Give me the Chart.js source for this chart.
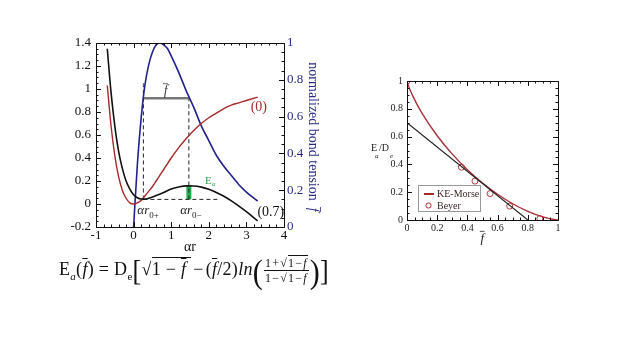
<!DOCTYPE html>
<html>
<head>
<meta charset="utf-8">
<script src="https://cdn.jsdelivr.net/npm/chart.js@4.4.0/dist/chart.umd.min.js"></script>
<style>
  body { margin:0; width:640px; height:360px; background:#fff; position:relative; overflow:hidden; font-family:'Liberation Serif', serif; }
  #left { position:absolute; left:0; top:0; }
  #right { position:absolute; left:340px; top:40px; }
  #eq { position:absolute; left:59px; top:256px; font-size:18px; white-space:nowrap; color:#111; letter-spacing:0.3px; }
  #eq sub { font-size:11px; }
  .fb { text-decoration:overline; }
  .ov { border-top:1px solid #111; padding-top:1px; }
  .sp { margin:0 2px; }
  .frac { display:inline-block; vertical-align:middle; text-align:center; font-size:12px; line-height:13px; margin:0 1px; letter-spacing:1.2px; }
  .num { display:block; border-bottom:1px solid #111; padding:0 1px; }
  .den { display:block; padding:1px 1px 0; }
  .frac .ov { padding-top:0; }
  .par { display:inline-block; font-size:30px; vertical-align:middle; line-height:30px; transform:scaleY(1.15); }
  .big { display:inline-block; font-size:26px; vertical-align:middle; line-height:30px; transform:scaleY(1.15); }
</style>
</head>
<body>
<canvas id="left" width="340" height="260"></canvas>
<canvas id="right" width="260" height="220"></canvas>
<div id="eq">E<sub><i>a</i></sub>(<i class="fb">f</i>) = D<sub>e</sub><span class="big">[</span>√<span class="ov">1 − <i class="fb">f</i>&nbsp;</span><span class="sp">−</span>(<i class="fb">f</i>/2)<i>ln</i><span class="par">(</span><span class="frac"><span class="num">1+√<span class="ov">1−<i class="fb">f</i></span></span><span class="den">1−√<span class="ov">1−<i class="fb">f</i></span></span></span><span class="par">)</span><span class="big">]</span></div>
<script>
// ---- left panel: Morse potential, tilted potential, bond tension ----
const morseX   = [-0.7,-0.6,-0.5,-0.4,-0.3,-0.2,-0.1,0,0.1,0.2,0.3,0.4,0.5,0.6,0.8,1.0,1.2,1.4,1.6,1.8,2.0,2.2,2.4,2.6,2.8,3.0,3.3];
const energy0  = [1.03,0.68,0.42,0.24,0.12,0.05,0.01,0,0.01,0.03,0.07,0.11,0.15,0.20,0.30,0.40,0.49,0.57,0.64,0.70,0.75,0.79,0.83,0.86,0.88,0.90,0.93];
const energy07 = [1.35,0.97,0.68,0.46,0.31,0.20,0.13,0.08,0.054,0.043,0.042,0.049,0.06,0.074,0.10,0.13,0.148,0.158,0.157,0.147,0.128,0.10,0.067,0.027,-0.018,-0.067,-0.147];
const tensionX = [0,0.1,0.2,0.3,0.4,0.5,0.6,0.7,0.8,0.9,1.0,1.2,1.4,1.6,1.8,2.0,2.2,2.4,2.6,2.8,3.0,3.3];
const tensionY = [0,0.34,0.59,0.77,0.88,0.95,0.99,1.0,0.99,0.97,0.93,0.84,0.74,0.65,0.55,0.47,0.39,0.33,0.28,0.23,0.19,0.14];
const leftXTicks  = [-1,0,1,2,3,4];
const leftYTicks  = [-0.2,0,0.2,0.4,0.6,0.8,1,1.2,1.4];
const rightYTicks = [0,0.2,0.4,0.6,0.8,1];

// annotation values
const fBar = 0.7, r0plus = 0.26, r0minus = 1.47, eLow = 0.04, eHigh = 0.16, dashEnd = 2.27;

// ---- right panel: activation energy vs tension ----
const fGrid    = [0,0.003,0.01,0.02,0.05,0.1,0.2,0.3,0.4,0.5,0.6,0.7,0.8,0.9,0.95,1.0];
const keMorse  = [1.0,0.988,0.965,0.937,0.866,0.767,0.606,0.474,0.362,0.266,0.185,0.117,0.062,0.022,0.008,0];
const beyerF   = [0,0.36,0.45,0.55,0.68,0.88];
const beyerE   = [1.0,0.38,0.28,0.19,0.10,0.01];
const tangentF = [0,0.8];
const tangentE = [0.7,0];
const panelTicks = [0,0.2,0.4,0.6,0.8,1];

const pts = (xs, ys) => xs.map((x, i) => ({ x, y: ys[i] }));
const SERIF = "'Liberation Serif', serif";
const fmt = v => String(Math.round(v * 10) / 10);

function inTicks(ctx, area, scale, side, min, max, major, minor) {
  const n = Math.round((max - min) / minor);
  ctx.save();
  ctx.strokeStyle = '#111'; ctx.lineWidth = 1;
  for (let i = 0; i <= n; i++) {
    const v = min + i * minor;
    const len = Math.abs(v / major - Math.round(v / major)) < 1e-6 ? 5 : 2.5;
    const p = Math.round(scale.getPixelForValue(v)) + 0.5;
    ctx.beginPath();
    if (side === 'bottom') { ctx.moveTo(p, area.bottom); ctx.lineTo(p, area.bottom - len); }
    if (side === 'top')    { ctx.moveTo(p, area.top);    ctx.lineTo(p, area.top + len); }
    if (side === 'left')   { ctx.moveTo(area.left, p);   ctx.lineTo(area.left + len, p); }
    if (side === 'right')  { ctx.moveTo(area.right, p);  ctx.lineTo(area.right - len, p); }
    ctx.stroke();
  }
  ctx.restore();
}

function fbarText(ctx, x, y, size) {
  // italic f with an overbar
  ctx.font = `italic ${size}px ${SERIF}`;
  const w = ctx.measureText('f').width;
  ctx.fillText('f', x, y);
  ctx.beginPath();
  ctx.moveTo(x - w * 0.2, y - size * 0.82);
  ctx.lineTo(x + w * 1.1, y - size * 0.82);
  ctx.stroke();
  return w;
}

const noGrid = { display: false, drawTicks: false };

const leftDeco = {
  id: 'leftDeco',
  afterDraw(chart) {
    const { ctx, chartArea: a } = chart;
    const xs = chart.scales.x, ys = chart.scales.y, y2 = chart.scales.y2;
    ctx.save();
    ctx.strokeStyle = '#111'; ctx.lineWidth = 1;
    ctx.strokeRect(Math.round(a.left) + 0.5, Math.round(a.top) + 0.5, Math.round(a.right - a.left), Math.round(a.bottom - a.top));
    inTicks(ctx, a, xs, 'bottom', -1, 4, 1, 0.2);
    inTicks(ctx, a, xs, 'top', -1, 4, 1, 0.2);
    inTicks(ctx, a, ys, 'left', -0.2, 1.4, 0.2, 0.05);
    inTicks(ctx, a, y2, 'right', 0, 1, 0.2, 0.05);

    // axis title x
    ctx.fillStyle = '#111'; ctx.textAlign = 'center'; ctx.textBaseline = 'middle';
    ctx.font = `14px ${SERIF}`;
    ctx.fillText('αr', (a.left + a.right) / 2, 247);

    // right axis title, rotated
    ctx.save();
    ctx.translate(313, (a.top + a.bottom) / 2 + 2);
    ctx.rotate(Math.PI / 2);
    ctx.fillStyle = '#2b2b85'; ctx.strokeStyle = '#2b2b85';
    ctx.font = `14px ${SERIF}`;
    const t = 'normalized bond tension  ';
    const w1 = ctx.measureText(t).width;
    ctx.font = `italic 14px ${SERIF}`;
    const w2 = ctx.measureText('f').width;
    const x0 = -(w1 + w2) / 2;
    ctx.textAlign = 'left'; ctx.textBaseline = 'alphabetic';
    ctx.font = `14px ${SERIF}`;
    ctx.fillText(t, x0, 4);
    ctx.lineWidth = 0.8;
    fbarText(ctx, x0 + w1, 4, 14);
    ctx.restore();

    // curve labels
    ctx.textAlign = 'center'; ctx.textBaseline = 'middle';
    ctx.font = `14px ${SERIF}`;
    ctx.fillStyle = '#a52a2a';
    ctx.fillText('(0)', xs.getPixelForValue(3.33), ys.getPixelForValue(0.84));
    ctx.fillStyle = '#111';
    ctx.fillText('(0.7)', xs.getPixelForValue(3.65), ys.getPixelForValue(-0.076));

    // E_a label
    ctx.fillStyle = '#2e9e4a';
    ctx.font = `11px ${SERIF}`;
    ctx.textAlign = 'left';
    const ex = xs.getPixelForValue(1.9), ey = ys.getPixelForValue(0.2);
    ctx.fillText('E', ex, ey);
    ctx.font = `italic 7px ${SERIF}`;
    ctx.fillText('a', ex + 7, ey + 3);

    // alpha r0+ / alpha r0- labels
    ctx.fillStyle = '#222';
    [[0.1, '0+'], [1.24, '0\u2212']].forEach(([xv, sub]) => {
      const px = xs.getPixelForValue(xv), py = ys.getPixelForValue(-0.06);
      ctx.font = `italic 13px ${SERIF}`;
      ctx.fillText('αr', px, py);
      const w = ctx.measureText('αr').width;
      ctx.font = `9px ${SERIF}`;
      ctx.fillText(sub, px + w, py + 5);
    });

    // f-bar label above the level line
    ctx.fillStyle = '#444'; ctx.strokeStyle = '#444'; ctx.lineWidth = 0.8;
    ctx.textBaseline = 'alphabetic';
    fbarText(ctx, xs.getPixelForValue(0.8), y2.getPixelForValue(fBar) - 3, 14);
    ctx.restore();
  }
};

new Chart(document.getElementById('left'), {
  type: 'line',
  data: {
    datasets: [
      { data: pts(morseX, energy07), borderColor: '#111', borderWidth: 1.6, yAxisID: 'y' },
      { data: pts(morseX, energy0), borderColor: '#a52a2a', borderWidth: 1.4, yAxisID: 'y' },
      { data: pts(tensionX, tensionY), borderColor: '#22228a', borderWidth: 1.6, yAxisID: 'y2' },
      { data: pts([r0plus, r0minus], [fBar, fBar]), borderColor: '#777', borderWidth: 2.5, yAxisID: 'y2', tension: 0 },
      { data: pts([r0plus, r0plus], [eLow, 1.05]), borderColor: '#222', borderWidth: 1, borderDash: [4, 3], yAxisID: 'y', tension: 0 },
      { data: pts([r0minus, r0minus], [eLow, 0.92]), borderColor: '#222', borderWidth: 1, borderDash: [4, 3], yAxisID: 'y', tension: 0 },
      { data: pts([r0plus, dashEnd], [eLow, eLow]), borderColor: '#222', borderWidth: 1, borderDash: [4, 3], yAxisID: 'y', tension: 0 },
      { data: pts([r0minus, r0minus], [eLow, eHigh]), borderColor: '#1fb14f', borderWidth: 5, yAxisID: 'y', tension: 0, borderCapStyle: 'butt' }
    ]
  },
  options: {
    responsive: false, animation: false,
    layout: { padding: { top: 43, left: 0, right: 0, bottom: 0 } },
    elements: { point: { radius: 0 }, line: { tension: 0.35, cubicInterpolationMode: 'monotone', fill: false } },
    plugins: { legend: { display: false }, tooltip: { enabled: false } },
    scales: {
      x: {
        type: 'linear', min: -1, max: 4,
        afterBuildTicks: s => { s.ticks = leftXTicks.map(v => ({ value: v })); },
        afterFit: s => { s.height = 33; },
        grid: noGrid, border: { display: false },
        ticks: { color: '#111', padding: 1, font: { family: SERIF, size: 13 }, callback: v => fmt(v), maxRotation: 0 }
      },
      y: {
        position: 'left', min: -0.2, max: 1.4,
        afterBuildTicks: s => { s.ticks = leftYTicks.map(v => ({ value: v })); },
        afterFit: s => { s.width = 96; },
        grid: noGrid, border: { display: false },
        ticks: { color: '#111', padding: 5, font: { family: SERIF, size: 13 }, callback: v => fmt(v) }
      },
      y2: {
        position: 'right', min: 0, max: 1,
        afterBuildTicks: s => { s.ticks = rightYTicks.map(v => ({ value: v })); },
        afterFit: s => { s.width = 56; },
        grid: noGrid, border: { display: false },
        ticks: { color: '#2b2b85', padding: 3, font: { family: SERIF, size: 13 }, callback: v => fmt(v) }
      }
    }
  },
  plugins: [leftDeco]
});

const rightDeco = {
  id: 'rightDeco',
  afterDraw(chart) {
    const { ctx, chartArea: a } = chart;
    const xs = chart.scales.x, ys = chart.scales.y;
    ctx.save();
    ctx.strokeStyle = '#111'; ctx.lineWidth = 1;
    ctx.strokeRect(Math.round(a.left) + 0.5, Math.round(a.top) + 0.5, Math.round(a.right - a.left), Math.round(a.bottom - a.top));
    ['bottom', 'top'].forEach(s => inTicks(ctx, a, xs, s, 0, 1, 0.2, 0.05));
    ['left', 'right'].forEach(s => inTicks(ctx, a, ys, s, 0, 1, 0.2, 0.05));

    // x title: f-bar
    ctx.fillStyle = '#222'; ctx.strokeStyle = '#222'; ctx.lineWidth = 0.8;
    ctx.textAlign = 'left'; ctx.textBaseline = 'alphabetic';
    fbarText(ctx, (a.left + a.right) / 2 - 2, 202, 13);

    // y title: Ea/De
    ctx.font = `10px ${SERIF}`;
    ctx.fillText('E', 31, 111);
    ctx.fillText('/D', 39, 111);
    ctx.font = `italic 7px ${SERIF}`;
    ctx.fillText('a', 35, 118);
    ctx.fillText('e', 50, 118);

    // legend box
    ctx.strokeStyle = '#999'; ctx.lineWidth = 1;
    ctx.strokeRect(78.5, 145.5, 62, 26);
    ctx.strokeStyle = '#a52a2a'; ctx.lineWidth = 2;
    ctx.beginPath(); ctx.moveTo(84, 154); ctx.lineTo(94, 154); ctx.stroke();
    ctx.lineWidth = 1;
    ctx.beginPath(); ctx.arc(88.5, 165.5, 2.6, 0, Math.PI * 2); ctx.stroke();
    ctx.fillStyle = '#3a2626';
    ctx.font = `10px ${SERIF}`;
    ctx.textBaseline = 'middle';
    ctx.fillText('KE-Morse', 97, 154.5);
    ctx.fillText('Beyer', 97, 166);
    ctx.restore();
  }
};

new Chart(document.getElementById('right'), {
  type: 'line',
  data: {
    datasets: [
      { data: pts(tangentF, tangentE), borderColor: '#222', borderWidth: 1.1, tension: 0, pointRadius: 0 },
      { data: pts(fGrid, keMorse), borderColor: '#a8323a', borderWidth: 1.4, tension: 0.35, cubicInterpolationMode: 'monotone', pointRadius: 0 },
      { data: pts(beyerF, beyerE), showLine: false, pointRadius: 3, pointBorderWidth: 1, pointBorderColor: '#b03a3a', pointBackgroundColor: 'rgba(255,255,255,0)' }
    ]
  },
  options: {
    responsive: false, animation: false,
    layout: { padding: { top: 41, left: 0, right: 42, bottom: 0 } },
    plugins: { legend: { display: false }, tooltip: { enabled: false } },
    scales: {
      x: {
        type: 'linear', min: 0, max: 1,
        afterBuildTicks: s => { s.ticks = panelTicks.map(v => ({ value: v })); },
        afterFit: s => { s.height = 40; },
        grid: noGrid, border: { display: false },
        ticks: { color: '#222', padding: 2, font: { family: SERIF, size: 10 }, callback: v => fmt(v), maxRotation: 0 }
      },
      y: {
        min: 0, max: 1,
        afterBuildTicks: s => { s.ticks = panelTicks.map(v => ({ value: v })); },
        afterFit: s => { s.width = 67; },
        grid: noGrid, border: { display: false },
        ticks: { color: '#222', padding: 4, font: { family: SERIF, size: 10 }, callback: v => fmt(v) }
      }
    }
  },
  plugins: [rightDeco]
});
</script>
</body>
</html>
